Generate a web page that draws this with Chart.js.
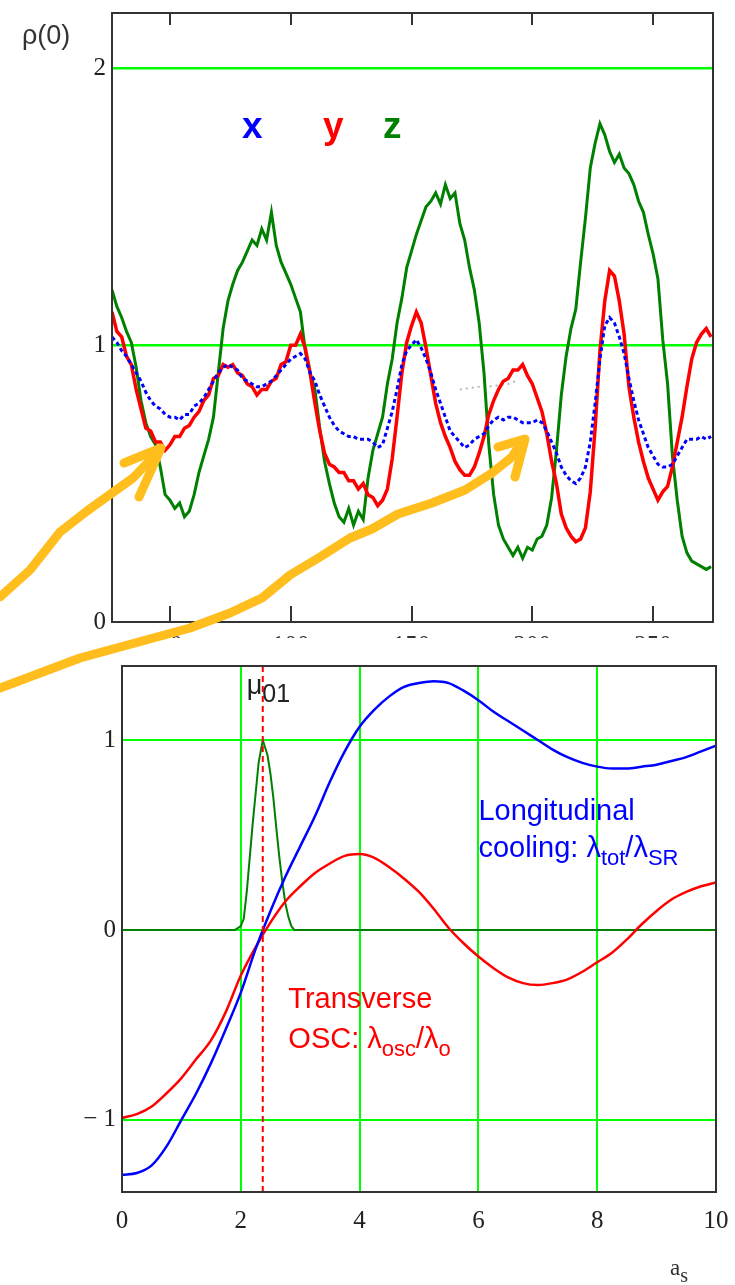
<!DOCTYPE html>
<html>
<head>
<meta charset="utf-8">
<title>ρ(0) and cooling rates vs a_s</title>
<script src="https://cdn.jsdelivr.net/npm/chart.js@4.4.1/dist/chart.umd.min.js"></script>
<style>
  html, body { margin: 0; padding: 0; background: #fff; }
  #page { position: relative; width: 735px; height: 1285px; overflow: hidden; background: #fff; }
  #topWrap { position: absolute; left: 0; top: 0; width: 735px; height: 638px; overflow: hidden; }
  #bottomWrap { position: absolute; left: 0; top: 640px; width: 735px; height: 645px; }
  #arrows { position: absolute; left: 0; top: 0; pointer-events: none; }
</style>
</head>
<body>
<div id="page">
  <div id="topWrap"><canvas id="rhoChart" width="735" height="660"></canvas></div>
  <div id="bottomWrap"><canvas id="coolChart" width="735" height="645"></canvas></div>
  <!-- hand-drawn pointer arrows laid over both plots -->
  <svg id="arrows" width="735" height="1285">
    <g fill="none" stroke="#ffbe1e" stroke-width="9" stroke-linecap="round" stroke-linejoin="round">
      <path d="M0 597 L30 570 L60 532 L87 511 L133 478 L158 452"/>
      <path d="M124 463 L161 448 L139 497"/>
      <path d="M0 688 L80 658 L190 628 L230 613 L262 598 L290 575 L320 557 L350 538 L372 529 L398 514 L432 503 L465 490 L492 473 L512 457 L523 440"/>
      <path d="M498 447 L525 439 L515 477"/>
    </g>
  </svg>
</div>
<script>
// ---------- top panel: rho(0) for x, y, z ----------
const T_START = 26;
const T_STEP = 2;
const T_MIN = 26;
const T_MAX = 274.8;
const tTicks = [50, 100, 150, 200, 250];
const rhoTicks = [0, 1, 2];

const rhoX = [
  1.03, 1.01, 0.98, 0.96, 0.93, 0.90, 0.87, 0.83, 0.80, 0.78,
  0.77, 0.75, 0.74, 0.74, 0.73, 0.75, 0.75, 0.78, 0.79, 0.81,
  0.84, 0.87, 0.90, 0.92, 0.93, 0.92, 0.91, 0.88, 0.87, 0.86,
  0.85, 0.85, 0.86, 0.87, 0.89, 0.91, 0.93, 0.95, 0.96, 0.97,
  0.95, 0.90, 0.87, 0.82, 0.78, 0.74, 0.71, 0.69, 0.68, 0.67,
  0.67, 0.66, 0.66, 0.66, 0.65, 0.63, 0.64, 0.70, 0.76, 0.84,
  0.93, 0.98, 1.00, 1.02, 0.99, 0.95, 0.90, 0.84, 0.79, 0.74,
  0.69, 0.67, 0.65, 0.63, 0.64, 0.66, 0.67, 0.68, 0.71, 0.73,
  0.74, 0.73, 0.74, 0.74, 0.73, 0.72, 0.72, 0.72, 0.73, 0.72,
  0.69, 0.65, 0.61, 0.56, 0.53, 0.51, 0.50, 0.52, 0.56, 0.65,
  0.79, 0.95, 1.07, 1.10, 1.08, 1.03, 0.97, 0.88, 0.80, 0.73,
  0.68, 0.63, 0.60, 0.57, 0.56, 0.56, 0.57, 0.60, 0.63, 0.66,
  0.66, 0.66, 0.67, 0.66, 0.67
];
const rhoY = [
  1.12, 1.05, 1.03, 0.96, 0.93, 0.84, 0.77, 0.70, 0.69, 0.65,
  0.65, 0.62, 0.64, 0.67, 0.67, 0.70, 0.71, 0.74, 0.76, 0.80,
  0.82, 0.88, 0.89, 0.93, 0.92, 0.93, 0.90, 0.89, 0.86, 0.85,
  0.82, 0.84, 0.84, 0.87, 0.88, 0.93, 0.94, 1.00, 1.00, 1.04,
  0.99, 0.90, 0.79, 0.69, 0.61, 0.57, 0.56, 0.54, 0.54, 0.51,
  0.51, 0.48, 0.50, 0.46, 0.45, 0.42, 0.44, 0.48, 0.59, 0.74,
  0.90, 1.01, 1.07, 1.12, 1.08, 0.99, 0.89, 0.79, 0.72, 0.67,
  0.63, 0.58, 0.55, 0.53, 0.53, 0.56, 0.61, 0.67, 0.75, 0.80,
  0.84, 0.87, 0.88, 0.91, 0.91, 0.93, 0.89, 0.86, 0.81, 0.76,
  0.68, 0.58, 0.50, 0.39, 0.34, 0.31, 0.29, 0.30, 0.34, 0.47,
  0.70, 0.98, 1.16, 1.27, 1.25, 1.16, 1.04, 0.85, 0.74, 0.65,
  0.58, 0.52, 0.48, 0.44, 0.47, 0.49, 0.56, 0.65, 0.74, 0.85,
  0.95, 1.01, 1.04, 1.06, 1.03
];
const rhoZ = [
  1.20, 1.14, 1.10, 1.05, 1.01, 0.92, 0.80, 0.72, 0.67, 0.64,
  0.56, 0.46, 0.44, 0.41, 0.43, 0.38, 0.40, 0.46, 0.54, 0.60,
  0.66, 0.74, 0.90, 1.06, 1.16, 1.22, 1.27, 1.30, 1.34, 1.38,
  1.36, 1.42, 1.38, 1.48, 1.36, 1.30, 1.26, 1.22, 1.17, 1.12,
  0.98, 0.90, 0.84, 0.70, 0.58, 0.50, 0.43, 0.38, 0.36, 0.41,
  0.35, 0.40, 0.37, 0.52, 0.62, 0.68, 0.74, 0.86, 0.95, 1.08,
  1.17, 1.28, 1.34, 1.40, 1.45, 1.50, 1.52, 1.55, 1.51, 1.58,
  1.53, 1.55, 1.44, 1.38, 1.28, 1.20, 1.08, 0.90, 0.64, 0.46,
  0.35, 0.30, 0.27, 0.24, 0.27, 0.23, 0.27, 0.26, 0.30, 0.31,
  0.35, 0.45, 0.62, 0.82, 0.96, 1.06, 1.13, 1.30, 1.46, 1.64,
  1.73, 1.80, 1.76, 1.70, 1.66, 1.69, 1.64, 1.62, 1.58, 1.52,
  1.48, 1.40, 1.33, 1.24, 1.02, 0.86, 0.60, 0.44, 0.31, 0.25,
  0.22, 0.21, 0.20, 0.19, 0.20
];
const tGrid = rhoX.map((_, i) => T_START + i * T_STEP);

// short faint trace left over from an earlier run
const faintT = [170, 174, 178, 182, 186, 190, 193];
const faintRho = [0.84, 0.845, 0.85, 0.85, 0.855, 0.86, 0.87];

// ---------- bottom panel: cooling rates vs a_s ----------
const aS = [
  0, 0.25, 0.5, 0.75, 1, 1.25, 1.5, 1.75, 2, 2.25,
  2.5, 2.75, 3, 3.25, 3.5, 3.75, 4, 4.25, 4.5, 4.75,
  5, 5.25, 5.5, 5.75, 6, 6.25, 6.5, 6.75, 7, 7.25,
  7.5, 7.75, 8, 8.25, 8.5, 8.75, 9, 9.25, 9.5, 9.75, 10
];
const lamTot = [
  -1.29, -1.28, -1.24, -1.14, -1.00, -0.86, -0.70, -0.52, -0.33, -0.10,
  0.10, 0.28, 0.44, 0.60, 0.78, 0.94, 1.07, 1.16, 1.23, 1.28,
  1.30, 1.31, 1.30, 1.26, 1.21, 1.15, 1.10, 1.05, 1.00, 0.95,
  0.91, 0.88, 0.86, 0.85, 0.85, 0.86, 0.87, 0.89, 0.91, 0.94, 0.97
];
const lamOsc = [
  -0.99, -0.97, -0.93, -0.86, -0.78, -0.68, -0.58, -0.43, -0.24, -0.09,
  0.04, 0.15, 0.23, 0.30, 0.35, 0.39, 0.40, 0.38, 0.33, 0.27,
  0.20, 0.11, 0.01, -0.07, -0.14, -0.20, -0.25, -0.28, -0.29, -0.28,
  -0.26, -0.22, -0.17, -0.12, -0.05, 0.03, 0.10, 0.16, 0.20, 0.23, 0.25
];
const muX = [0, 1.9, 1.95, 2.0, 2.05, 2.1, 2.15, 2.2, 2.25, 2.3, 2.37, 2.45, 2.5, 2.55, 2.6, 2.65, 2.7, 2.75, 2.8, 2.85, 2.9, 10];
const muY = [0, 0, 0.01, 0.02, 0.06, 0.2, 0.38, 0.56, 0.72, 0.88, 1.0, 0.92, 0.82, 0.69, 0.53, 0.38, 0.25, 0.14, 0.07, 0.02, 0, 0];
const MU_01 = 2.37;
const A_MIN = 0, A_MAX = 10;
const L_MIN = -1.38, L_MAX = 1.39;
const aTicks = [0, 2, 4, 6, 8, 10];
const lamTicks = [-1, 0, 1];

const LIME = '#00ff00';
const toPoints = (xs, ys) => xs.map((x, i) => ({ x, y: ys[i] }));
const tickFont = { family: '"Liberation Serif", serif', size: 25 };
const sans = '"Liberation Sans", Arial, sans-serif';

// axes keep a fixed size and don't push the plot area around
function fixSize(w, h) {
  return s => {
    if (w != null) s.width = w;
    if (h != null) s.height = h;
    s.paddingTop = s.paddingBottom = s.paddingLeft = s.paddingRight = 0;
  };
}

// closed box round the plot, with optional inward ticks on top and bottom edges
const framePlugin = {
  id: 'frame',
  afterDatasetsDraw(chart, args, opts) {
    const { ctx, chartArea: a } = chart;
    ctx.save();
    ctx.strokeStyle = '#333';
    ctx.lineWidth = 2;
    ctx.strokeRect(a.left, a.top, a.right - a.left, a.bottom - a.top);
    if (opts.inTicks) {
      const xs = chart.scales.x;
      ctx.beginPath();
      xs.ticks.forEach(t => {
        const px = Math.round(xs.getPixelForValue(t.value));
        ctx.moveTo(px, a.bottom);
        ctx.lineTo(px, a.bottom - opts.inTicks.bottom);
        ctx.moveTo(px, a.top);
        ctx.lineTo(px, a.top + opts.inTicks.top);
      });
      ctx.stroke();
    }
    ctx.restore();
  }
};

// text notes; runs are [text, isSubscript]
const notesPlugin = {
  id: 'notes',
  afterDatasetsDraw(chart, args, opts) {
    const { ctx } = chart;
    const xs = chart.scales.x, ys = chart.scales.y;
    (opts.items || []).forEach(n => {
      let px = n.px != null ? n.px : xs.getPixelForValue(n.x);
      const py = n.py != null ? n.py : ys.getPixelForValue(n.y);
      ctx.save();
      ctx.fillStyle = n.color;
      ctx.textBaseline = 'alphabetic';
      ctx.textAlign = 'left';
      n.runs.forEach(([txt, sub]) => {
        ctx.font = sub ? n.subFont : n.font;
        ctx.fillText(txt, px, py + (sub ? n.subDrop : 0));
        px += ctx.measureText(txt).width;
      });
      ctx.restore();
    });
  }
};

new Chart(document.getElementById('rhoChart'), {
  type: 'line',
  data: {
    datasets: [
      { label: 'x', data: toPoints(tGrid, rhoX), borderColor: '#0000ff', borderWidth: 3, borderDash: [4, 3] },
      { label: 'y', data: toPoints(tGrid, rhoY), borderColor: '#ff0000', borderWidth: 3.5 },
      { label: 'z', data: toPoints(tGrid, rhoZ), borderColor: '#008000', borderWidth: 3 },
      { label: 'faint', data: toPoints(faintT, faintRho), borderColor: '#b8b8b8', borderWidth: 2, borderDash: [2, 4] }
    ]
  },
  options: {
    animation: false,
    responsive: false,
    devicePixelRatio: 1,
    elements: { point: { radius: 0 }, line: { tension: 0 } },
    layout: { padding: { left: 0, top: 13, right: 22, bottom: 0 } },
    plugins: {
      legend: { display: false },
      tooltip: { enabled: false },
      frame: { inTicks: { top: 12, bottom: 16 } },
      notes: {
        items: [
          { x: 79.8, y: 1.75, color: '#0000ff', font: 'bold 37px ' + sans, runs: [['x']] },
          { x: 113.4, y: 1.75, color: '#ff0000', font: 'bold 37px ' + sans, runs: [['y']] },
          { x: 138.2, y: 1.75, color: '#008000', font: 'bold 37px ' + sans, runs: [['z']] },
          { px: 22, py: 44, color: '#333', font: '27px ' + sans, runs: [['ρ(0)']] }
        ]
      }
    },
    scales: {
      x: {
        type: 'linear',
        min: T_MIN,
        max: T_MAX,
        afterBuildTicks(s) { s.ticks = tTicks.map(v => ({ value: v })); },
        afterFit: fixSize(null, 38),
        ticks: { padding: 9, color: '#333', font: tickFont, maxRotation: 0 },
        grid: { display: false, drawTicks: false },
        border: { display: false }
      },
      y: {
        min: 0,
        max: 2.2,
        afterBuildTicks(s) { s.ticks = rhoTicks.map(v => ({ value: v })); },
        afterFit: fixSize(112, null),
        ticks: { padding: 6, color: '#222', font: tickFont },
        grid: {
          drawTicks: false,
          lineWidth: 2.5,
          color: c => (c.tick && c.tick.value === 0 ? 'rgba(0,0,0,0)' : LIME)
        },
        border: { display: false }
      }
    }
  },
  plugins: [framePlugin, notesPlugin]
});

new Chart(document.getElementById('coolChart'), {
  type: 'line',
  data: {
    datasets: [
      { label: 'μ01', data: [{ x: MU_01, y: L_MIN }, { x: MU_01, y: L_MAX }], borderColor: '#ff0000', borderWidth: 2, borderDash: [6, 4] },
      { label: 'λtot/λSR', data: toPoints(aS, lamTot), borderColor: '#0000ff', borderWidth: 2.5, cubicInterpolationMode: 'monotone' },
      { label: 'λosc/λo', data: toPoints(aS, lamOsc), borderColor: '#ff0000', borderWidth: 2.5, cubicInterpolationMode: 'monotone' },
      { label: 'spectrum', data: toPoints(muX, muY), borderColor: '#008000', borderWidth: 2 }
    ]
  },
  options: {
    animation: false,
    responsive: false,
    devicePixelRatio: 1,
    elements: { point: { radius: 0 }, line: { tension: 0 } },
    layout: { padding: { left: 0, top: 26, right: 19, bottom: 0 } },
    plugins: {
      legend: { display: false },
      tooltip: { enabled: false },
      frame: {},
      notes: {
        items: [
          { x: 6.0, y: 0.58, color: '#0000ff', font: '29px ' + sans, runs: [['Longitudinal']] },
          { x: 6.0, y: 0.385, color: '#0000ff', font: '29px ' + sans, subFont: '22px ' + sans, subDrop: 8,
            runs: [['cooling: λ'], ['tot', true], ['/λ'], ['SR', true]] },
          { x: 2.8, y: -0.41, color: '#ff0000', font: '29px ' + sans, runs: [['Transverse']] },
          { x: 2.8, y: -0.62, color: '#ff0000', font: '29px ' + sans, subFont: '22px ' + sans, subDrop: 8,
            runs: [['OSC: λ'], ['osc', true], ['/λ'], ['o', true]] },
          { x: 2.1, y: 1.24, color: '#222', font: '27px ' + sans, subFont: '25px ' + sans, subDrop: 8,
            runs: [['μ'], ['01', true]] },
          { px: 670, py: 635, color: '#333', font: '23px "Liberation Serif", serif', subFont: '20px "Liberation Serif", serif', subDrop: 7,
            runs: [['a'], ['s', true]] }
        ]
      }
    },
    scales: {
      x: {
        type: 'linear',
        min: A_MIN,
        max: A_MAX,
        afterBuildTicks(s) { s.ticks = aTicks.map(v => ({ value: v })); },
        afterFit: fixSize(null, 93),
        ticks: { padding: 14, color: '#222', font: tickFont, maxRotation: 0 },
        grid: {
          drawTicks: false,
          lineWidth: 2,
          color: c => (c.tick && (c.tick.value === A_MIN || c.tick.value === A_MAX) ? 'rgba(0,0,0,0)' : LIME)
        },
        border: { display: false }
      },
      y: {
        min: L_MIN,
        max: L_MAX,
        afterBuildTicks(s) { s.ticks = lamTicks.map(v => ({ value: v })); },
        afterFit: fixSize(122, null),
        ticks: {
          padding: 6,
          color: '#222',
          font: tickFont,
          callback: v => (v < 0 ? '− ' + Math.abs(v) : String(v))
        },
        grid: { drawTicks: false, lineWidth: 2, color: LIME },
        border: { display: false }
      }
    }
  },
  plugins: [framePlugin, notesPlugin]
});
</script>
</body>
</html>
